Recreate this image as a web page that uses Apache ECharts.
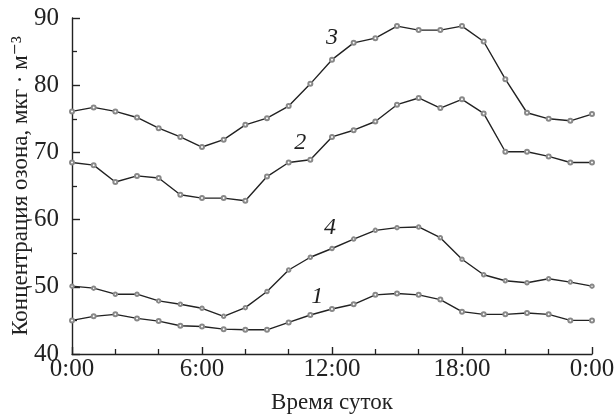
<!DOCTYPE html>
<html><head><meta charset="utf-8">
<script src="https://cdn.jsdelivr.net/npm/echarts@6/dist/echarts.min.js"></script>
<style>html,body{margin:0;padding:0;background:#fff}#c{width:614px;height:414px}</style>
</head><body><div id="c"></div>
<script>
const hours = [0,1,2,3,4,5,6,7,8,9,10,11,12,13,14,15,16,17,18,19,20,21,22,23,24];
const xTickLabels = {0:'0:00',6:'6:00',12:'12:00',18:'18:00',24:'0:00'};
const s1 = [45.0,45.6,45.9,45.3,44.9,44.2,44.1,43.7,43.6,43.6,44.7,45.8,46.7,47.4,48.8,49.0,48.8,48.1,46.3,45.9,45.9,46.1,45.9,45.0,45.0];
const s2 = [68.5,68.1,65.6,66.5,66.2,63.7,63.2,63.2,62.8,66.4,68.5,68.9,72.3,73.3,74.6,77.1,78.1,76.6,77.9,75.8,70.1,70.1,69.4,68.5,68.5];
const s3 = [76.1,76.7,76.1,75.2,73.6,72.3,70.8,71.9,74.1,75.1,76.9,80.2,83.8,86.3,87.0,88.8,88.2,88.2,88.8,86.5,80.9,75.9,75.0,74.7,75.7];
const s4 = [50.1,49.8,48.9,48.9,47.9,47.4,46.8,45.6,46.9,49.3,52.5,54.4,55.7,57.1,58.4,58.8,58.9,57.3,54.1,51.8,50.9,50.6,51.2,50.7,50.1];
const seriesNames = ['1','2','3','4'];
const labelAt = [11, 11, 12, 12];
const labelOffsets = [[7,-18],[-10,-17],[0,-22],[-2,-21]];

const font = '"Liberation Serif", "DejaVu Serif", serif';
function mk(vals, idx, size) {
  return {
    type: 'line',
    name: seriesNames[idx],
    symbol: 'emptyCircle',
    symbolSize: size,
    lineStyle: {color: '#222', width: 1.4},
    itemStyle: {color: '#888', borderWidth: 1},
    data: hours.map((h, i) => {
      const d = {value: [h, vals[i]]};
      if (i === labelAt[idx]) {
        d.label = {show: true, formatter: seriesNames[idx], position: 'inside',
          offset: labelOffsets[idx], fontFamily: font, fontStyle: 'italic',
          fontSize: 24, color: '#222'};
      }
      return d;
    }),
    z: 3
  };
}
const chart = echarts.init(document.getElementById('c'), null, {renderer: 'canvas'});
chart.setOption({
  animation: false,
  backgroundColor: '#fff',
  grid: {left: 72, right: 22, top: 18, bottom: 60, containLabel: false, outerBoundsMode: 'none'},
  xAxis: {
    type: 'value', min: 0, max: 24, interval: 6,
    name: 'Время суток', nameLocation: 'middle', nameGap: 37, nameMoveOverlap: false,
    nameTextStyle: {fontFamily: font, fontSize: 23, color: '#222'},
    axisLine: {lineStyle: {color: '#222', width: 1.4}},
    axisTick: {inside: true, length: 7, lineStyle: {color: '#222', width: 1.4}},
    minorTick: {show: true, splitNumber: 3, length: 5, lineStyle: {color: '#222', width: 1.3}},
    axisLabel: {fontFamily: font, fontSize: 25, color: '#222', margin: 3,
      formatter: v => xTickLabels[v] !== undefined ? xTickLabels[v] : ''},
    splitLine: {show: false}
  },
  yAxis: {
    type: 'value', min: 40, max: 90, interval: 10,
    name: 'Концентрация озона, мкг · м⁻³', nameLocation: 'middle', nameGap: 40, nameMoveOverlap: false,
    nameTextStyle: {fontFamily: font, fontSize: 23, color: '#222'},
    axisLine: {show: true, lineStyle: {color: '#222', width: 1.4}},
    axisTick: {show: true, inside: true, length: 8, lineStyle: {color: '#222', width: 1.4}},
    minorTick: {show: true, splitNumber: 2, length: 5, lineStyle: {color: '#222', width: 1.3}},
    axisLabel: {fontFamily: font, fontSize: 25, color: '#222', margin: 13},
    splitLine: {show: false}
  },
  series: [mk(s1, 0, 4), mk(s2, 1, 4), mk(s3, 2, 4), mk(s4, 3, 3.5)]
});
</script></body></html>
